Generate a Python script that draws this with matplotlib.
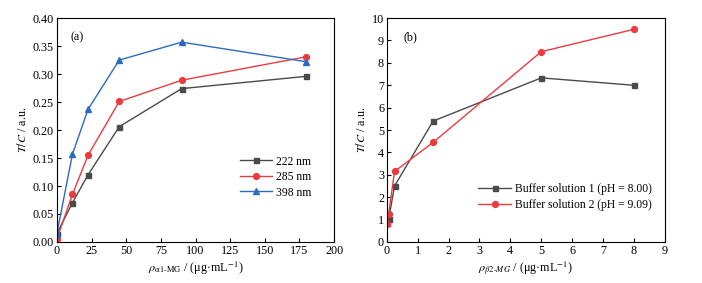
import numpy as np
import matplotlib
matplotlib.use("Agg")
import matplotlib.pyplot as plt

plt.rcParams['font.family'] = ['Liberation Serif', 'DejaVu Serif']
plt.rcParams['mathtext.fontset'] = 'stix'
plt.rcParams['font.size'] = 8.7

# panel (a)
xa = [0, 11.25, 22.5, 45, 90, 180]
y222 = [0.015, 0.070, 0.120, 0.206, 0.274, 0.296]
y285 = [0.005, 0.085, 0.155, 0.251, 0.289, 0.331]
y398 = [0.015, 0.157, 0.237, 0.325, 0.357, 0.322]

# panel (b)
xb = [0.02, 0.06, 0.25, 1.5, 5, 8]
yb1 = [0.85, 1.02, 2.5, 5.4, 7.33, 7.0]
yb2 = [0.8, 1.25, 3.15, 4.45, 8.5, 9.5]

grey = '#4a4a4a'
red = '#ec3b3f'
blue = '#2b6cc0'

fig = plt.figure(figsize=(7.02, 2.83), dpi=100)
ax1 = fig.add_axes([0.081, 0.145, 0.395, 0.791])
ax2 = fig.add_axes([0.551, 0.145, 0.396, 0.791])

ax1.plot(xa, y222, color=grey, marker='s', ms=3.6, lw=1, label='222 nm')
ax1.plot(xa, y285, color=red, marker='o', ms=4.2, lw=1, label='285 nm')
ax1.plot(xa, y398, color=blue, marker='^', ms=4.8, lw=1, label='398 nm')
ax1.set_xlim(0, 200)
ax1.set_ylim(0, 0.40)
ax1.set_xticks(np.arange(0, 201, 25))
ax1.set_yticks(np.arange(0, 0.401, 0.05))
ax1.yaxis.set_major_formatter(matplotlib.ticker.FormatStrFormatter('%.2f'))
ax1.set_xlabel(r'$\rho_{\mathrm{\alpha1\text{-}MG}}$ / (μg·mL$^{-1}$)', labelpad=2)
ax1.set_ylabel(r'$T/C$ / a.u.', labelpad=3)
ax1.text(0.05, 0.9, '(a)', transform=ax1.transAxes)
ax1.legend(loc='center right', bbox_to_anchor=(0.955, 0.29), frameon=False, fontsize=8.4,
           handlelength=2.8, handletextpad=0.3, labelspacing=0.3)

ax2.plot(xb, yb1, color=grey, marker='s', ms=3.6, lw=1, label='Buffer solution 1 (pH = 8.00)')
ax2.plot(xb, yb2, color=red, marker='o', ms=4.2, lw=1, label='Buffer solution 2 (pH = 9.09)')
ax2.set_xlim(0, 9)
ax2.set_ylim(0, 10)
ax2.set_xticks(np.arange(0, 10, 1))
ax2.set_yticks(np.arange(0, 11, 1))
ax2.set_xlabel(r'$\rho_{\beta2\text{-}MG}$ / (μg·mL$^{-1}$)', labelpad=2)
ax2.set_ylabel(r'$T/C$ / a.u.', labelpad=3)
ax2.text(0.06, 0.9, '(b)', transform=ax2.transAxes)
ax2.legend(loc='center right', bbox_to_anchor=(0.99, 0.20), frameon=False, fontsize=8.4,
           handlelength=2.8, handletextpad=0.3, labelspacing=0.3)

for ax in (ax1, ax2):
    ax.tick_params(direction='in', length=3, width=0.8, pad=2)
    for s in ax.spines.values():
        s.set_linewidth(0.8)

fig.savefig('out.png', dpi=100)
